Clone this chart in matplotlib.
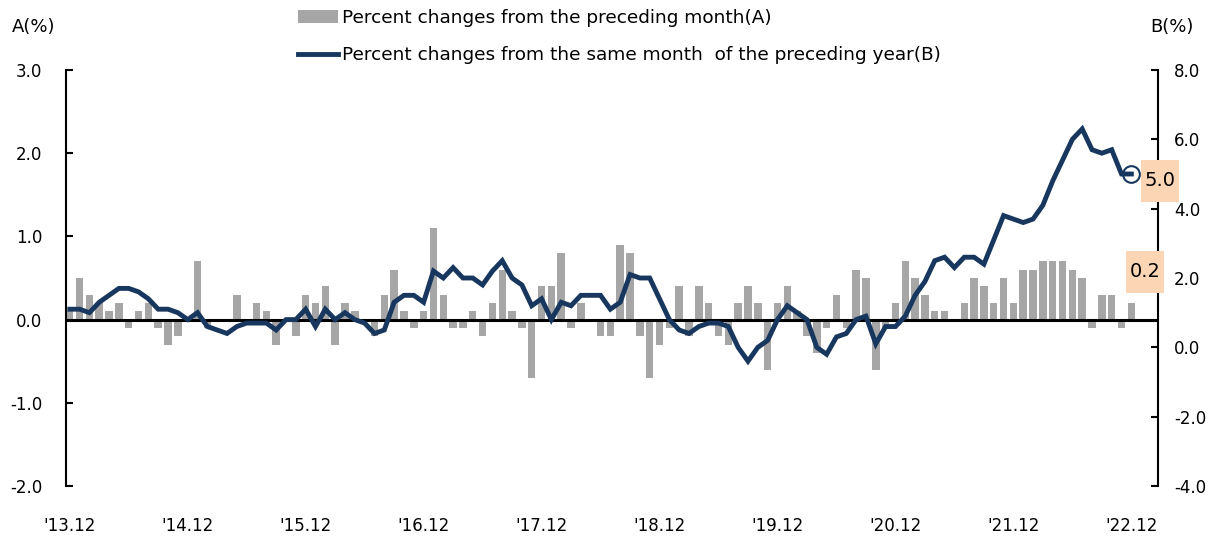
import matplotlib
matplotlib.use("Agg")
import matplotlib.pyplot as plt
from matplotlib.patches import Rectangle
from matplotlib.transforms import IdentityTransform
from matplotlib.ticker import FormatStrFormatter
import numpy as np

plt.rcParams['font.family'] = ['DejaVu Sans']

# monthly data, 2013.12 .. 2022.12
mom_change = [0.1, 0.5, 0.3, 0.2, 0.1, 0.2, -0.1, 0.1, 0.2, -0.1, -0.3, -0.2,
              0.0, 0.7, -0.1, 0.0, 0.0, 0.3, 0.0, 0.2, 0.1, -0.3, 0.0, -0.2,
              0.3, 0.2, 0.4, -0.3, 0.2, 0.1, 0.0, -0.2, 0.3, 0.6, 0.1, -0.1,
              0.1, 1.1, 0.3, -0.1, -0.1, 0.1, -0.2, 0.2, 0.6, 0.1, -0.1, -0.7,
              0.4, 0.4, 0.8, -0.1, 0.2, 0.0, -0.2, -0.2, 0.9, 0.8, -0.2, -0.7,
              -0.3, -0.1, 0.4, -0.2, 0.4, 0.2, -0.2, -0.3, 0.2, 0.4, 0.2, -0.6,
              0.2, 0.4, 0.1, -0.2, -0.4, -0.1, 0.3, -0.1, 0.6, 0.5, -0.6, -0.1,
              0.2, 0.7, 0.5, 0.3, 0.1, 0.1, 0.0, 0.2, 0.5, 0.4, 0.2, 0.5,
              0.2, 0.6, 0.6, 0.7, 0.7, 0.7, 0.6, 0.5, -0.1, 0.3, 0.3, -0.1,
              0.2]
yoy_change = [1.1, 1.1, 1.0, 1.3, 1.5, 1.7, 1.7, 1.6, 1.4, 1.1, 1.1, 1.0,
              0.8, 1.0, 0.6, 0.5, 0.4, 0.6, 0.7, 0.7, 0.7, 0.5, 0.8, 0.8,
              1.1, 0.6, 1.1, 0.8, 1.0, 0.8, 0.7, 0.4, 0.5, 1.3, 1.5, 1.5,
              1.3, 2.2, 2.0, 2.3, 2.0, 2.0, 1.8, 2.2, 2.5, 2.0, 1.8, 1.2,
              1.4, 0.8, 1.3, 1.2, 1.5, 1.5, 1.5, 1.1, 1.3, 2.1, 2.0, 2.0,
              1.4, 0.8, 0.5, 0.4, 0.6, 0.7, 0.7, 0.6, 0.0, -0.4, 0.0, 0.2,
              0.8, 1.2, 1.0, 0.8, 0.0, -0.2, 0.3, 0.4, 0.8, 0.9, 0.1, 0.6,
              0.6, 0.9, 1.5, 1.9, 2.5, 2.6, 2.3, 2.6, 2.6, 2.4, 3.1, 3.8,
              3.7, 3.6, 3.7, 4.1, 4.8, 5.4, 6.0, 6.3, 5.7, 5.6, 5.7, 5.0,
              5.0]
year_labels = ["'13.12", "'14.12", "'15.12", "'16.12", "'17.12",
               "'18.12", "'19.12", "'20.12", "'21.12", "'22.12"]

navy = '#17375E'
gray = '#A6A6A6'
peach = '#FCD5B4'

idx = np.arange(len(mom_change))

fig = plt.figure(figsize=(12.08, 5.42), dpi=100)
ax = fig.add_axes([66 / 1208, 56 / 542, 1091.5 / 1208, 416 / 542])
ax2 = ax.twinx()

bars = ax.bar(idx, mom_change, width=0.76, color=gray, zorder=2,
              label='Percent changes from the preceding month(A)')
ax.axhline(0, color='black', lw=2.2, zorder=3)
line, = ax2.plot(idx, yoy_change, color=navy, lw=3.5, solid_joinstyle='miter',
                 label='Percent changes from the same month  of the preceding year(B)')
ax2.plot(idx[-1], yoy_change[-1], 'o', ms=12, mfc='none', mec=navy, mew=1.5)

ax.set_xlim(-0.38, 110.66)
ax.set_ylim(-2, 3)
ax2.set_ylim(-4, 8)
ax.set_yticks([-2, -1, 0, 1, 2, 3])
ax2.set_yticks([-4, -2, 0, 2, 4, 6, 8])
ax.yaxis.set_major_formatter(FormatStrFormatter('%.1f'))
ax2.yaxis.set_major_formatter(FormatStrFormatter('%.1f'))
ax.set_xticks(idx[::12])
ax.set_xticklabels(year_labels)

for a in (ax, ax2):
    for s in ('top', 'bottom'):
        a.spines[s].set_visible(False)
ax.spines['right'].set_visible(False)
ax2.spines['left'].set_visible(False)
ax.spines['left'].set_linewidth(1.5)
ax2.spines['right'].set_linewidth(1.5)

ax.tick_params(axis='y', direction='in', length=5, width=1.5, pad=17, labelsize=12)
ax2.tick_params(axis='y', direction='in', length=5, width=1.5, pad=12, labelsize=12)
ax.tick_params(axis='x', length=0, pad=22, labelsize=12)

fig.text(12 / 1208, 1 - 27 / 542, 'A(%)', fontsize=13, va='center')
fig.text(1150 / 1208, 1 - 27 / 542, 'B(%)', fontsize=13, va='center')

fig.legend(handles=[bars, line], loc='upper left',
           bbox_to_anchor=(298 / 1208, 1 - 9 / 542), frameon=False,
           fontsize=13.3, handlelength=2.15, handletextpad=0.25,
           borderpad=0, borderaxespad=0, labelspacing=1.05)


# value boxes for the latest month (placed in pixels relative to the last point)
def value_box(axis, x, y, dx, dy, text):
    px, py = axis.transData.transform((x, y))
    cx, cy = px + dx, py + dy
    fig.add_artist(Rectangle((cx - 19, cy - 21), 38, 42, transform=IdentityTransform(),
                             fc=peach, ec='none', zorder=5))
    fig.text(cx, cy, text, transform=IdentityTransform(), ha='center', va='center',
             fontsize=14, zorder=6)


value_box(ax2, idx[-1], yoy_change[-1], 29, -7, f'{yoy_change[-1]:.1f}')
value_box(ax, idx[-1], mom_change[-1], 14, 31, f'{mom_change[-1]:.1f}')

fig.savefig('out.png', dpi=100)
